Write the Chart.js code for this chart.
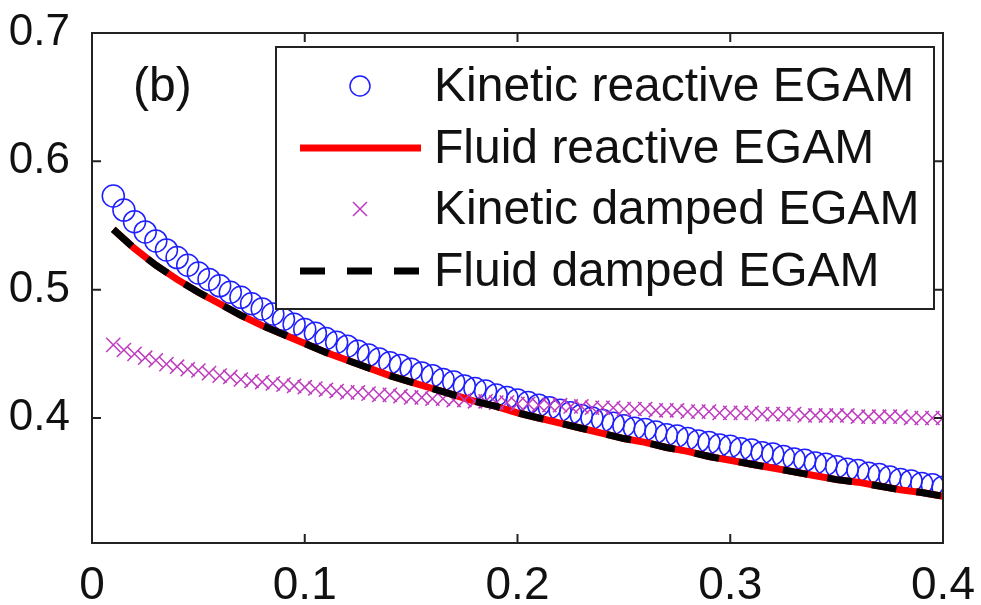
<!DOCTYPE html>
<html>
<head>
<meta charset="utf-8">
<script src="https://cdn.jsdelivr.net/npm/chart.js@4"></script>
<style>
  body { margin: 0; background: #fff; }
  #wrap { width: 981px; height: 605px; }
</style>
</head>
<body>
<div id="wrap"><canvas id="egamChart" width="981" height="605"></canvas></div>
<script>
// sampled x positions of the kinetic runs
const kineticX = [0.010, 0.015, 0.020, 0.025, 0.030, 0.035, 0.040, 0.045, 0.050, 0.055,
  0.060, 0.065, 0.070, 0.075, 0.080, 0.085, 0.090, 0.095, 0.100, 0.105,
  0.110, 0.115, 0.120, 0.125, 0.130, 0.135, 0.140, 0.145, 0.150, 0.155,
  0.160, 0.165, 0.170, 0.175, 0.180, 0.185, 0.190, 0.195, 0.200, 0.205,
  0.210, 0.215, 0.220, 0.225, 0.230, 0.235, 0.240, 0.245, 0.250, 0.255,
  0.260, 0.265, 0.270, 0.275, 0.280, 0.285, 0.290, 0.295, 0.300, 0.305,
  0.310, 0.315, 0.320, 0.325, 0.330, 0.335, 0.340, 0.345, 0.350, 0.355,
  0.360, 0.365, 0.370, 0.375, 0.380, 0.385, 0.390, 0.395, 0.400];

const kineticReactive = [0.573, 0.562, 0.553, 0.545, 0.538, 0.531, 0.525, 0.519, 0.513, 0.508,
  0.503, 0.498, 0.494, 0.489, 0.485, 0.481, 0.477, 0.473, 0.469, 0.466,
  0.462, 0.459, 0.456, 0.452, 0.449, 0.446, 0.443, 0.441, 0.438, 0.435,
  0.433, 0.430, 0.428, 0.425, 0.423, 0.421, 0.418, 0.416, 0.414, 0.412,
  0.410, 0.408, 0.406, 0.404, 0.402, 0.400, 0.398, 0.396, 0.394, 0.392,
  0.391, 0.389, 0.387, 0.386, 0.384, 0.382, 0.381, 0.379, 0.378, 0.376,
  0.375, 0.373, 0.372, 0.370, 0.368, 0.367, 0.365, 0.364, 0.362, 0.360,
  0.359, 0.357, 0.356, 0.354, 0.352, 0.351, 0.349, 0.348, 0.346];

const kineticDamped = [0.457, 0.453, 0.450, 0.447, 0.445, 0.442, 0.440, 0.438, 0.437, 0.435,
  0.433, 0.432, 0.430, 0.429, 0.428, 0.427, 0.426, 0.425, 0.424, 0.423,
  0.422, 0.421, 0.420, 0.420, 0.419, 0.418, 0.418, 0.417, 0.416, 0.416,
  0.415, 0.415, 0.414, 0.414, 0.413, 0.413, 0.412, 0.412, 0.411, 0.411,
  0.410, 0.410, 0.410, 0.409, 0.409, 0.408, 0.408, 0.408, 0.407, 0.407,
  0.407, 0.406, 0.406, 0.406, 0.405, 0.405, 0.405, 0.404, 0.404, 0.404,
  0.404, 0.403, 0.403, 0.403, 0.403, 0.402, 0.402, 0.402, 0.402, 0.402,
  0.401, 0.401, 0.401, 0.401, 0.401, 0.400, 0.400, 0.400, 0.400];

// fluid model curve (reactive and damped coincide)
const fluidX = [0.01, 0.02, 0.03, 0.04, 0.05, 0.06, 0.07, 0.08, 0.09, 0.10,
  0.11, 0.12, 0.13, 0.14, 0.15, 0.16, 0.17, 0.18, 0.19, 0.20,
  0.21, 0.22, 0.23, 0.24, 0.25, 0.26, 0.27, 0.28, 0.29, 0.30,
  0.31, 0.32, 0.33, 0.34, 0.35, 0.36, 0.37, 0.38, 0.39, 0.40];
const fluidY = [0.547, 0.532, 0.519, 0.508, 0.498, 0.489, 0.480, 0.472, 0.465, 0.458,
  0.451, 0.445, 0.439, 0.433, 0.428, 0.423, 0.418, 0.413, 0.409, 0.404,
  0.400, 0.396, 0.392, 0.388, 0.384, 0.381, 0.377, 0.374, 0.370, 0.367,
  0.364, 0.361, 0.358, 0.355, 0.352, 0.350, 0.347, 0.344, 0.342, 0.339];

const xTicks = [0, 0.1, 0.2, 0.3, 0.4];
const yTicks = [0.4, 0.5, 0.6, 0.7];
const seriesNames = ['Kinetic reactive EGAM', 'Fluid reactive EGAM', 'Kinetic damped EGAM', 'Fluid damped EGAM'];

const BLUE = 'rgb(30, 30, 255)';
const MAGENTA = 'rgb(190, 60, 190)';
const FONT = '"Liberation Sans", Arial, sans-serif';

function pts(xs, ys) {
  return xs.map((x, i) => ({ x: x, y: ys[i] }));
}

// box, inward tick marks, panel label and legend, matlab style
const framePlugin = {
  id: 'frame',
  afterDraw(chart) {
    const ctx = chart.ctx;
    const a = chart.chartArea;
    const xs = chart.scales.x, ys = chart.scales.y;
    ctx.save();
    ctx.strokeStyle = '#222';
    ctx.lineWidth = 2;
    ctx.strokeRect(a.left, a.top, a.right - a.left, a.bottom - a.top);
    ctx.beginPath();
    xTicks.forEach(v => {
      if (v <= xs.min || v >= xs.max) return;
      const px = xs.getPixelForValue(v);
      ctx.moveTo(px, a.bottom); ctx.lineTo(px, a.bottom - 9);
      ctx.moveTo(px, a.top); ctx.lineTo(px, a.top + 9);
    });
    yTicks.forEach(v => {
      if (v <= ys.min || v >= ys.max) return;
      const py = ys.getPixelForValue(v);
      ctx.moveTo(a.left, py); ctx.lineTo(a.left + 9, py);
      ctx.moveTo(a.right, py); ctx.lineTo(a.right - 9, py);
    });
    ctx.stroke();

    ctx.fillStyle = '#111';
    ctx.font = '48px ' + FONT;
    ctx.textBaseline = 'middle';
    ctx.textAlign = 'left';
    ctx.fillText('(b)', 133, 88);

    // legend
    const lx = 276, ly = 47, lw = 658, lh = 262;
    ctx.fillStyle = '#fff';
    ctx.fillRect(lx, ly, lw, lh);
    ctx.strokeStyle = '#222';
    ctx.lineWidth = 2;
    ctx.strokeRect(lx, ly, lw, lh);
    const rows = [86, 148, 209, 271];
    const mx = 360;
    // circle
    ctx.strokeStyle = BLUE; ctx.lineWidth = 1.5;
    ctx.beginPath(); ctx.arc(mx, rows[0], 10, 0, Math.PI * 2); ctx.stroke();
    // solid red
    ctx.strokeStyle = 'red'; ctx.lineWidth = 7;
    ctx.beginPath(); ctx.moveTo(300, rows[1]); ctx.lineTo(421, rows[1]); ctx.stroke();
    // cross
    ctx.strokeStyle = MAGENTA; ctx.lineWidth = 1.5;
    ctx.beginPath();
    ctx.moveTo(mx - 7, rows[2] - 7); ctx.lineTo(mx + 7, rows[2] + 7);
    ctx.moveTo(mx + 7, rows[2] - 7); ctx.lineTo(mx - 7, rows[2] + 7);
    ctx.stroke();
    // dashed black
    ctx.strokeStyle = '#000'; ctx.lineWidth = 7;
    ctx.setLineDash([25, 22]);
    ctx.beginPath(); ctx.moveTo(300, rows[3]); ctx.lineTo(421, rows[3]); ctx.stroke();
    ctx.setLineDash([]);

    ctx.fillStyle = '#111';
    ctx.font = '48px ' + FONT;
    seriesNames.forEach((t, i) => ctx.fillText(t, 434, rows[i] + 2));
    ctx.restore();
  }
};

const data = {
  datasets: [
    {
      label: seriesNames[0],
      data: pts(kineticX, kineticReactive),
      showLine: false,
      pointStyle: 'circle',
      pointRadius: 11,
      pointBorderWidth: 1.5,
      borderColor: BLUE,
      backgroundColor: 'rgba(0,0,0,0)',
      order: 4,
    },
    {
      label: seriesNames[1],
      data: pts(fluidX, fluidY),
      showLine: true,
      borderColor: 'red',
      borderWidth: 7,
      pointRadius: 0,
      tension: 0,
      order: 3,
    },
    {
      label: seriesNames[2],
      data: pts(kineticX, kineticDamped),
      showLine: false,
      pointStyle: 'crossRot',
      pointRadius: 10,
      pointBorderWidth: 1.5,
      borderColor: MAGENTA,
      backgroundColor: MAGENTA,
      order: 2,
    },
    {
      label: seriesNames[3],
      data: pts(fluidX, fluidY),
      showLine: true,
      borderColor: '#000',
      borderWidth: 7,
      borderDash: [25, 20],
      pointRadius: 0,
      tension: 0,
      order: 1,
    },
  ],
};

const config = {
  type: 'scatter',
  data: data,
  options: {
    responsive: false,
    animation: false,
    events: [],
    layout: { autoPadding: false, padding: { top: 33, right: 38, left: 0, bottom: 0 } },
    plugins: {
      legend: { display: false },
      tooltip: { enabled: false },
    },
    scales: {
      x: {
        type: 'linear',
        min: 0,
        max: 0.4,
        afterBuildTicks: s => { s.ticks = xTicks.map(v => ({ value: v })); },
        afterFit: s => { s.height = 62; s.paddingLeft = 0; s.paddingRight = 0; },
        grid: { display: false },
        border: { display: false },
        ticks: {
          color: '#111',
          padding: 8,
          maxRotation: 0,
          font: { family: FONT, size: 46 },
          callback: v => (v === 0 ? '0' : v.toFixed(1)),
        },
      },
      y: {
        type: 'linear',
        min: 0.3026,
        max: 0.7,
        afterBuildTicks: s => { s.ticks = yTicks.map(v => ({ value: v })); },
        afterFit: s => { s.width = 92; s.paddingTop = 0; s.paddingBottom = 0; },
        grid: { display: false },
        border: { display: false },
        ticks: {
          color: '#111',
          padding: 14,
          font: { family: FONT, size: 44 },
          callback: v => v.toFixed(1),
        },
      },
    },
  },
  plugins: [framePlugin],
};

const egamChart = new Chart(document.getElementById('egamChart'), config);
</script>
</body>
</html>
